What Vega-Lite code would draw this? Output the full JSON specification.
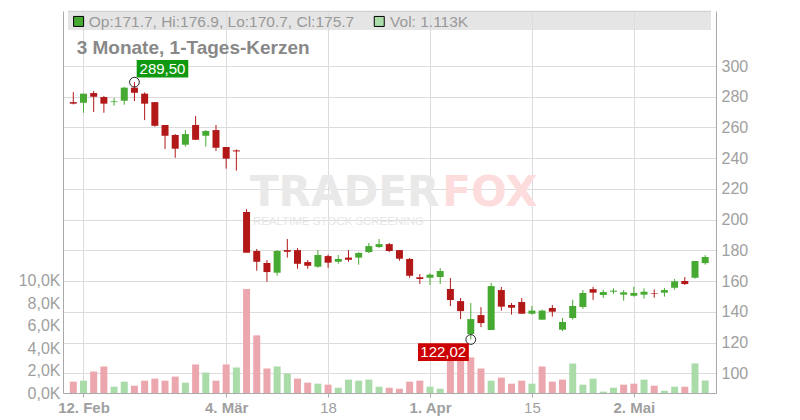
{
  "$schema": "https://vega.github.io/schema/vega-lite/v6.json",
  "width": 653,
  "height": 382,
  "autosize": {"type": "none"},
  "padding": {"left": 63, "top": 11, "right": 84, "bottom": 27},
  "background": "white",
  "config": {
    "view": {"stroke": null},
    "font": "Liberation Sans",
    "text": {"font": "Liberation Sans"},
    "axis": {"labelFont": "Liberation Sans"}
  },
  "datasets": {
    "ohlc": [
      {"i":0,"o":276.5,"h":283.0,"l":275.0,"c":275.5,"v":1010,"vd":"d"},
      {"i":1,"o":276.1,"h":282.0,"l":269.6,"c":282.0,"v":1100,"vd":"u"},
      {"i":2,"o":282.4,"h":283.7,"l":270.0,"c":280.0,"v":1910,"vd":"d"},
      {"i":3,"o":279.8,"h":280.5,"l":269.6,"c":275.5,"v":2360,"vd":"d"},
      {"i":4,"o":276.5,"h":279.2,"l":274.2,"c":277.0,"v":560,"vd":"u"},
      {"i":5,"o":277.4,"h":286.5,"l":274.8,"c":285.9,"v":1010,"vd":"u"},
      {"i":6,"o":285.9,"h":289.5,"l":277.2,"c":282.6,"v":650,"vd":"d"},
      {"i":7,"o":282.0,"h":282.8,"l":264.8,"c":275.5,"v":1100,"vd":"d"},
      {"i":8,"o":276.5,"h":276.5,"l":260.5,"c":261.1,"v":1280,"vd":"d"},
      {"i":9,"o":261.6,"h":261.6,"l":246.0,"c":254.6,"v":1100,"vd":"d"},
      {"i":10,"o":255.1,"h":255.7,"l":240.3,"c":246.2,"v":1460,"vd":"d"},
      {"i":11,"o":248.8,"h":258.3,"l":247.5,"c":255.7,"v":920,"vd":"u"},
      {"i":12,"o":261.6,"h":267.4,"l":252.0,"c":252.0,"v":2540,"vd":"d"},
      {"i":13,"o":254.6,"h":258.3,"l":247.5,"c":257.7,"v":1820,"vd":"u"},
      {"i":14,"o":258.3,"h":261.6,"l":244.7,"c":246.8,"v":1100,"vd":"d"},
      {"i":15,"o":247.3,"h":247.3,"l":233.2,"c":239.7,"v":2540,"vd":"d"},
      {"i":16,"o":245.1,"h":245.7,"l":231.9,"c":244.4,"v":2270,"vd":"u"},
      {"i":17,"o":205.0,"h":206.9,"l":178.5,"c":178.5,"v":9260,"vd":"d"},
      {"i":18,"o":179.6,"h":180.9,"l":166.8,"c":172.6,"v":5130,"vd":"d"},
      {"i":19,"o":171.8,"h":173.7,"l":159.6,"c":165.9,"v":2180,"vd":"d"},
      {"i":20,"o":165.5,"h":180.2,"l":163.5,"c":179.6,"v":2360,"vd":"u"},
      {"i":21,"o":180.2,"h":187.4,"l":175.3,"c":179.1,"v":1730,"vd":"u"},
      {"i":22,"o":180.2,"h":181.5,"l":168.1,"c":171.3,"v":1280,"vd":"d"},
      {"i":23,"o":172.4,"h":173.7,"l":168.1,"c":170.0,"v":920,"vd":"d"},
      {"i":24,"o":169.4,"h":180.2,"l":168.7,"c":177.0,"v":830,"vd":"u"},
      {"i":25,"o":176.3,"h":177.2,"l":168.7,"c":172.0,"v":740,"vd":"d"},
      {"i":26,"o":172.6,"h":177.0,"l":171.3,"c":174.4,"v":470,"vd":"u"},
      {"i":27,"o":175.3,"h":180.2,"l":172.6,"c":173.9,"v":1190,"vd":"u"},
      {"i":28,"o":175.3,"h":178.9,"l":170.7,"c":178.3,"v":1100,"vd":"u"},
      {"i":29,"o":178.9,"h":184.8,"l":178.3,"c":182.8,"v":1190,"vd":"u"},
      {"i":30,"o":182.2,"h":187.4,"l":181.5,"c":184.1,"v":560,"vd":"u"},
      {"i":31,"o":184.1,"h":184.8,"l":178.9,"c":179.6,"v":470,"vd":"d"},
      {"i":32,"o":180.2,"h":180.2,"l":173.3,"c":174.6,"v":380,"vd":"d"},
      {"i":33,"o":174.4,"h":175.0,"l":162.2,"c":163.5,"v":1010,"vd":"d"},
      {"i":34,"o":162.5,"h":164.6,"l":158.1,"c":161.4,"v":1100,"vd":"d"},
      {"i":35,"o":162.2,"h":165.1,"l":157.5,"c":164.2,"v":560,"vd":"u"},
      {"i":36,"o":162.7,"h":168.5,"l":158.1,"c":166.6,"v":380,"vd":"u"},
      {"i":37,"o":154.9,"h":162.0,"l":143.8,"c":147.7,"v":3400,"vd":"d"},
      {"i":38,"o":147.0,"h":149.0,"l":135.3,"c":140.5,"v":3700,"vd":"d"},
      {"i":39,"o":125.6,"h":145.8,"l":122.02,"c":135.3,"v":3170,"vd":"d"},
      {"i":40,"o":137.9,"h":143.1,"l":130.1,"c":132.7,"v":2180,"vd":"d"},
      {"i":41,"o":128.2,"h":158.8,"l":128.2,"c":156.8,"v":1100,"vd":"u"},
      {"i":42,"o":154.2,"h":156.2,"l":140.8,"c":143.4,"v":1370,"vd":"d"},
      {"i":43,"o":144.5,"h":145.8,"l":138.2,"c":142.7,"v":830,"vd":"d"},
      {"i":44,"o":146.4,"h":149.0,"l":138.8,"c":138.8,"v":1100,"vd":"d"},
      {"i":45,"o":138.8,"h":143.8,"l":138.2,"c":140.8,"v":830,"vd":"u"},
      {"i":46,"o":134.9,"h":141.4,"l":134.9,"c":140.8,"v":2360,"vd":"d"},
      {"i":47,"o":142.5,"h":144.5,"l":136.9,"c":140.1,"v":1010,"vd":"d"},
      {"i":48,"o":128.4,"h":136.0,"l":127.5,"c":133.4,"v":1190,"vd":"d"},
      {"i":49,"o":136.0,"h":147.9,"l":134.9,"c":143.8,"v":2630,"vd":"u"},
      {"i":50,"o":143.2,"h":154.2,"l":142.0,"c":152.3,"v":740,"vd":"u"},
      {"i":51,"o":154.8,"h":156.3,"l":147.8,"c":152.5,"v":1280,"vd":"u"},
      {"i":52,"o":151.0,"h":154.4,"l":149.1,"c":152.9,"v":120,"vd":"u"},
      {"i":53,"o":153.1,"h":155.3,"l":151.6,"c":153.8,"v":470,"vd":"u"},
      {"i":54,"o":151.2,"h":154.2,"l":147.3,"c":152.7,"v":740,"vd":"d"},
      {"i":55,"o":150.5,"h":156.2,"l":149.9,"c":152.3,"v":830,"vd":"d"},
      {"i":56,"o":151.2,"h":155.3,"l":148.6,"c":153.1,"v":1190,"vd":"u"},
      {"i":57,"o":152.0,"h":154.6,"l":149.2,"c":151.6,"v":650,"vd":"d"},
      {"i":58,"o":152.5,"h":155.5,"l":149.9,"c":154.2,"v":200,"vd":"u"},
      {"i":59,"o":155.7,"h":161.4,"l":154.4,"c":159.9,"v":560,"vd":"u"},
      {"i":60,"o":160.1,"h":162.7,"l":157.5,"c":158.1,"v":560,"vd":"d"},
      {"i":61,"o":162.2,"h":173.1,"l":161.6,"c":173.1,"v":2630,"vd":"u"},
      {"i":62,"o":171.7,"h":176.9,"l":170.7,"c":175.7,"v":1113,"vd":"u"}
    ]
  },
  "layer": [
    {
      "data": {"name": "ohlc"},
      "mark": {"type": "bar", "width": 7},
      "encoding": {
        "x": {
          "field": "i",
          "type": "quantitative",
          "scale": {"domain": [-0.52, 62.57], "nice": false, "zero": false},
          "axis": {
            "title": null,
            "values": [1, 15, 25, 35, 45, 55],
            "tickCount": 30,
            "labelExpr": "datum.value == 1 ? '12. Feb' : datum.value == 15 ? '4. Mär' : datum.value == 25 ? '18' : datum.value == 35 ? '1. Apr' : datum.value == 45 ? '15' : '2. Mai'",
            "labelFontWeight": {"condition": {"test": "indexof([1, 15, 35, 55], datum.value) >= 0", "value": "bold"}, "value": "normal"},
            "labelFontSize": 15,
            "labelColor": "#a0a0a0",
            "labelPadding": 3,
            "labelFlush": false,
            "labelOverlap": false,
            "grid": true,
            "gridColor": "#dcdcdc",
            "domainColor": "#aaaaaa",
            "tickColor": "#aaaaaa",
            "tickSize": 4
          }
        },
        "y": {
          "field": "v",
          "type": "quantitative",
          "scale": {"domain": [0, 34000], "nice": false},
          "axis": {
            "orient": "left",
            "title": null,
            "values": [0, 2000, 4000, 6000, 8000, 10000],
            "tickCount": 30,
            "labelExpr": "replace(format(datum.value / 1000, '.1f'), '.', ',') + 'K'",
            "labelFontSize": 16,
            "labelColor": "#a0a0a0",
            "labelPadding": 3,
            "labelOverlap": false,
            "ticks": false,
            "grid": false,
            "domainColor": "#aaaaaa"
          }
        },
        "color": {
          "field": "vd",
          "type": "nominal",
          "scale": {"domain": ["u", "d"], "range": ["#aadcaa", "#eca6ae"]},
          "legend": null
        }
      }
    },
    {
      "layer": [
        {
          "data": {"values": [{}]},
          "mark": {"type": "text", "font": "DejaVu Sans", "fontWeight": "bold", "fontSize": 42, "align": "right", "baseline": "alphabetic", "color": "#e9e9e9"},
          "encoding": {
            "x": {"datum": 35.91, "type": "quantitative", "scale": {"domain": [-0.52, 62.57], "nice": false, "zero": false}},
            "y": {"datum": 208.6, "type": "quantitative"},
            "text": {"value": "TRADER"}
          }
        },
        {
          "data": {"values": [{}]},
          "mark": {"type": "text", "font": "DejaVu Sans", "fontWeight": "bold", "fontSize": 42, "align": "left", "baseline": "alphabetic", "color": "#fcdcdc"},
          "encoding": {
            "x": {"datum": 36.2, "type": "quantitative"},
            "y": {"datum": 208.6, "type": "quantitative"},
            "text": {"value": "FOX"}
          }
        },
        {
          "data": {"values": [{}]},
          "mark": {"type": "text", "fontSize": 11.5, "align": "left", "baseline": "alphabetic", "color": "#e6e6e6"},
          "encoding": {
            "x": {"datum": 17.62, "type": "quantitative"},
            "y": {"datum": 196.6, "type": "quantitative"},
            "text": {"value": "REALTIME STOCK SCREENING"}
          }
        },
        {
          "data": {"name": "ohlc"},
          "mark": {"type": "rule", "strokeWidth": 1},
          "encoding": {
            "x": {"field": "i", "type": "quantitative"},
            "y": {
              "field": "l",
              "type": "quantitative",
              "scale": {"domain": [87.2, 335.8], "nice": false, "zero": false},
              "axis": {
                "orient": "right",
                "title": null,
                "values": [100, 120, 140, 160, 180, 200, 220, 240, 260, 280, 300],
                "tickCount": 30,
                "labelFontSize": 16,
                "labelColor": "#a0a0a0",
                "labelPadding": 5,
                "labelOverlap": false,
                "ticks": false,
                "grid": true,
                "gridColor": "#dcdcdc",
                "domainColor": "#aaaaaa"
              }
            },
            "y2": {"field": "h"},
            "color": {"condition": {"test": "datum.c >= datum.o", "value": "#46aa32"}, "value": "#b21818"}
          }
        },
        {
          "data": {"name": "ohlc"},
          "mark": {"type": "bar", "width": 7},
          "encoding": {
            "x": {"field": "i", "type": "quantitative"},
            "y": {"field": "o", "type": "quantitative"},
            "y2": {"field": "c"},
            "color": {"condition": {"test": "datum.c >= datum.o", "value": "#46aa32"}, "value": "#b21818"}
          }
        },
        {
          "data": {"values": [{}]},
          "mark": {"type": "rect", "fill": "#dcdcdc", "opacity": 0.75},
          "encoding": {
            "x": {"datum": -0.52, "type": "quantitative"},
            "x2": {"datum": 62.57},
            "y": {"datum": 323.4, "type": "quantitative"},
            "y2": {"datum": 335.8}
          }
        },
        {
          "data": {"values": [{}]},
          "mark": {"type": "rule", "color": "#cccccc", "strokeWidth": 1},
          "encoding": {
            "x": {"datum": -0.52, "type": "quantitative"},
            "x2": {"datum": 62.57},
            "y": {"datum": 335.6, "type": "quantitative"}
          }
        },
        {
          "data": {"values": [{}]},
          "mark": {"type": "point", "shape": "square", "size": 100, "filled": true, "fill": "#46aa32", "stroke": "#000000", "strokeWidth": 1, "opacity": 1},
          "encoding": {
            "x": {"datum": 0.52, "type": "quantitative"},
            "y": {"datum": 329.0, "type": "quantitative"}
          }
        },
        {
          "data": {"values": [{}]},
          "mark": {"type": "point", "shape": "square", "size": 100, "filled": true, "fill": "#aadcaa", "stroke": "#000000", "strokeWidth": 1, "opacity": 1},
          "encoding": {
            "x": {"datum": 30.02, "type": "quantitative"},
            "y": {"datum": 329.0, "type": "quantitative"}
          }
        },
        {
          "data": {"values": [{}]},
          "mark": {"type": "text", "fontSize": 15.5, "align": "left", "baseline": "middle", "color": "#999999"},
          "encoding": {
            "x": {"datum": 1.52, "type": "quantitative"},
            "y": {"datum": 328.9, "type": "quantitative"},
            "text": {"value": "Op:171.7, Hi:176.9, Lo:170.7, Cl:175.7"}
          }
        },
        {
          "data": {"values": [{}]},
          "mark": {"type": "text", "fontSize": 15.5, "align": "left", "baseline": "middle", "color": "#999999"},
          "encoding": {
            "x": {"datum": 31.08, "type": "quantitative"},
            "y": {"datum": 328.9, "type": "quantitative"},
            "text": {"value": "Vol: 1.113K"}
          }
        },
        {
          "data": {"values": [{}]},
          "mark": {"type": "text", "fontSize": 19, "fontWeight": "bold", "align": "left", "baseline": "middle", "color": "#888888"},
          "encoding": {
            "x": {"datum": 0.33, "type": "quantitative"},
            "y": {"datum": 311.7, "type": "quantitative"},
            "text": {"value": "3 Monate, 1-Tages-Kerzen"}
          }
        },
        {
          "data": {"name": "ohlc"},
          "transform": [{"filter": "datum.i == 6"}],
          "mark": {"type": "point", "shape": "circle", "size": 95, "filled": false, "stroke": "#222222", "strokeWidth": 1, "opacity": 1},
          "encoding": {
            "x": {"field": "i", "type": "quantitative"},
            "y": {"field": "h", "type": "quantitative"}
          }
        },
        {
          "data": {"name": "ohlc"},
          "transform": [{"filter": "datum.i == 39"}],
          "mark": {"type": "point", "shape": "circle", "size": 95, "filled": false, "stroke": "#222222", "strokeWidth": 1, "opacity": 1},
          "encoding": {
            "x": {"field": "i", "type": "quantitative"},
            "y": {"field": "l", "type": "quantitative"}
          }
        },
        {
          "data": {"values": [{}]},
          "mark": {"type": "rect", "fill": "#109910"},
          "encoding": {
            "x": {"datum": 6.22, "type": "quantitative"},
            "x2": {"datum": 11.28},
            "y": {"datum": 292.6, "type": "quantitative"},
            "y2": {"datum": 303.9}
          }
        },
        {
          "data": {"values": [{}]},
          "mark": {"type": "text", "fontSize": 15, "align": "center", "baseline": "middle", "color": "#ffffff"},
          "encoding": {
            "x": {"datum": 8.75, "type": "quantitative"},
            "y": {"datum": 298.2, "type": "quantitative"},
            "text": {"value": "289,50"}
          }
        },
        {
          "data": {"values": [{}]},
          "mark": {"type": "rect", "fill": "#cc0000"},
          "encoding": {
            "x": {"datum": 33.82, "type": "quantitative"},
            "x2": {"datum": 38.81},
            "y": {"datum": 108.0, "type": "quantitative"},
            "y2": {"datum": 119.5}
          }
        },
        {
          "data": {"values": [{}]},
          "mark": {"type": "text", "fontSize": 15, "align": "center", "baseline": "middle", "color": "#ffffff"},
          "encoding": {
            "x": {"datum": 36.3, "type": "quantitative"},
            "y": {"datum": 113.7, "type": "quantitative"},
            "text": {"value": "122,02"}
          }
        }
      ]
    }
  ],
  "resolve": {"scale": {"y": "independent", "color": "independent"}}
}
